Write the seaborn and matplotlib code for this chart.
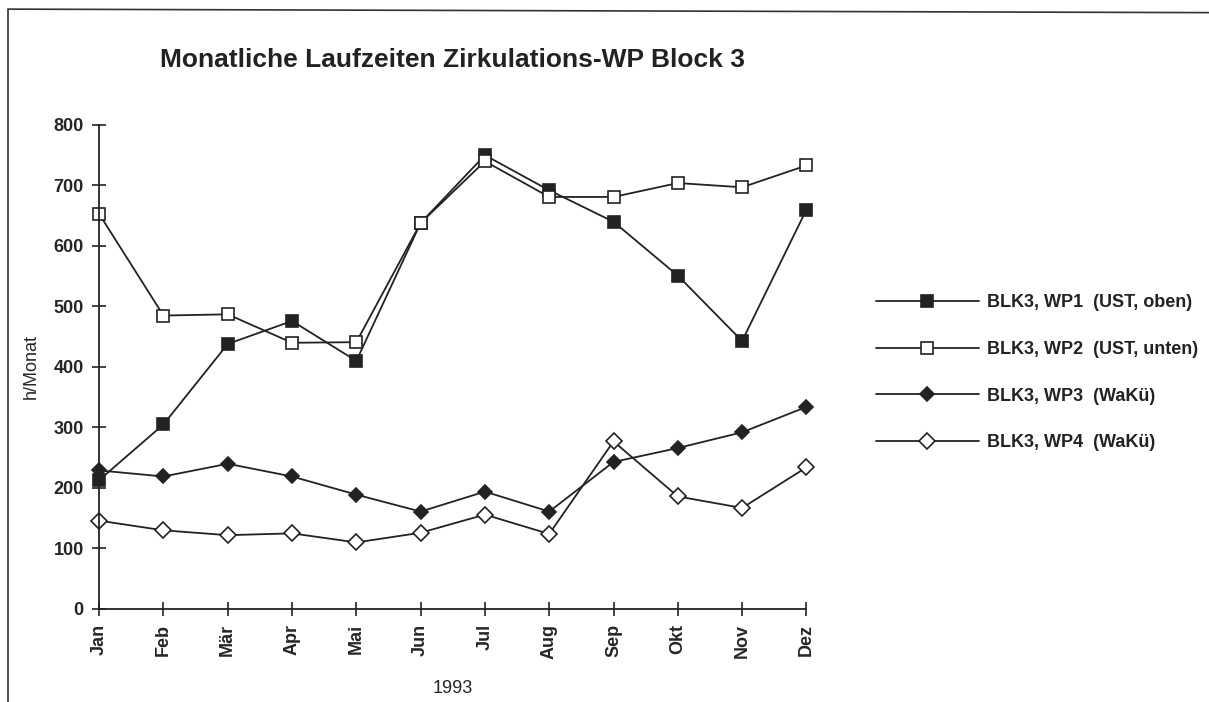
import matplotlib
matplotlib.use("Agg")
import matplotlib.pyplot as plt
import seaborn as sns
import pandas as pd

monate = ["Jan", "Feb", "Mär", "Apr", "Mai", "Jun", "Jul", "Aug", "Sep", "Okt", "Nov", "Dez"]
wp1 = [213, 305, 438, 476, 410, 638, 750, 692, 640, 551, 443, 660]
wp2 = [653, 485, 487, 440, 441, 638, 740, 681, 681, 704, 697, 733]
wp3 = [229, 219, 240, 219, 189, 161, 194, 161, 243, 266, 292, 334]
wp4 = [146, 130, 122, 125, 110, 126, 156, 124, 277, 186, 167, 234]
namen = ["BLK3, WP1  (UST, oben)", "BLK3, WP2  (UST, unten)",
         "BLK3, WP3  (WaKü)", "BLK3, WP4  (WaKü)"]

sns.set_style("white")
plt.rcParams['font.family'] = ['Liberation Sans', 'DejaVu Sans']

fig = plt.figure(figsize=(12.09, 7.02), dpi=100)
ax = fig.add_axes([0.082, 0.1325, 0.585, 0.6895])

x = list(range(len(monate)))
stile = [("s", "#222222", 9), ("s", "white", 9), ("D", "#222222", 7), ("D", "white", 8)]
for werte, name, (m, fc, ms) in zip([wp1, wp2, wp3, wp4], namen, stile):
    df = pd.DataFrame({"x": x, "y": werte})
    sns.lineplot(data=df, x="x", y="y", ax=ax, color="#222222", lw=1.3,
                 marker=m, markerfacecolor=fc, markeredgecolor="#222222",
                 markersize=ms, markeredgewidth=1.2, label=name, clip_on=False)

ax.set_xlim(0, 11)
ax.set_ylim(0, 800)
ax.set_xticks(x)
ax.set_xticklabels(monate, rotation=90, fontsize=13, fontweight="bold")
ax.set_yticks(range(0, 801, 100))
ax.set_yticklabels([str(v) for v in range(0, 801, 100)], fontsize=13, fontweight="bold")
ax.tick_params(axis="both", direction="inout", length=10, width=1.2, color="#222222",
               bottom=True, left=True, pad=6)
for s in ["top", "right"]:
    ax.spines[s].set_visible(False)
for s in ["left", "bottom"]:
    ax.spines[s].set_color("#222222")
    ax.spines[s].set_linewidth(1.3)
ax.set_xlabel("1993", fontsize=13, labelpad=15)
ax.set_ylabel("h/Monat", fontsize=13, labelpad=10)

fig.text(0.374, 0.915, "Monatliche Laufzeiten Zirkulations-WP Block 3",
         fontsize=19, fontweight="bold", ha="center", va="center", color="#222222")

leg = ax.legend(loc="center left", bbox_to_anchor=(1.075, 0.488), frameon=False,
                prop={"size": 13, "weight": "bold"}, handlelength=5.7,
                labelspacing=1.65, handletextpad=0.45)
for t in leg.get_texts():
    t.set_color("#222222")

# Rahmen oben und links
fig.add_artist(plt.Line2D([0.007, 1.0], [0.987, 0.982], transform=fig.transFigure,
                          color="#333333", lw=1.2))
fig.add_artist(plt.Line2D([0.007, 0.007], [0.987, 0.0], transform=fig.transFigure,
                          color="#333333", lw=1.2))

fig.savefig("out.png", dpi=100)
